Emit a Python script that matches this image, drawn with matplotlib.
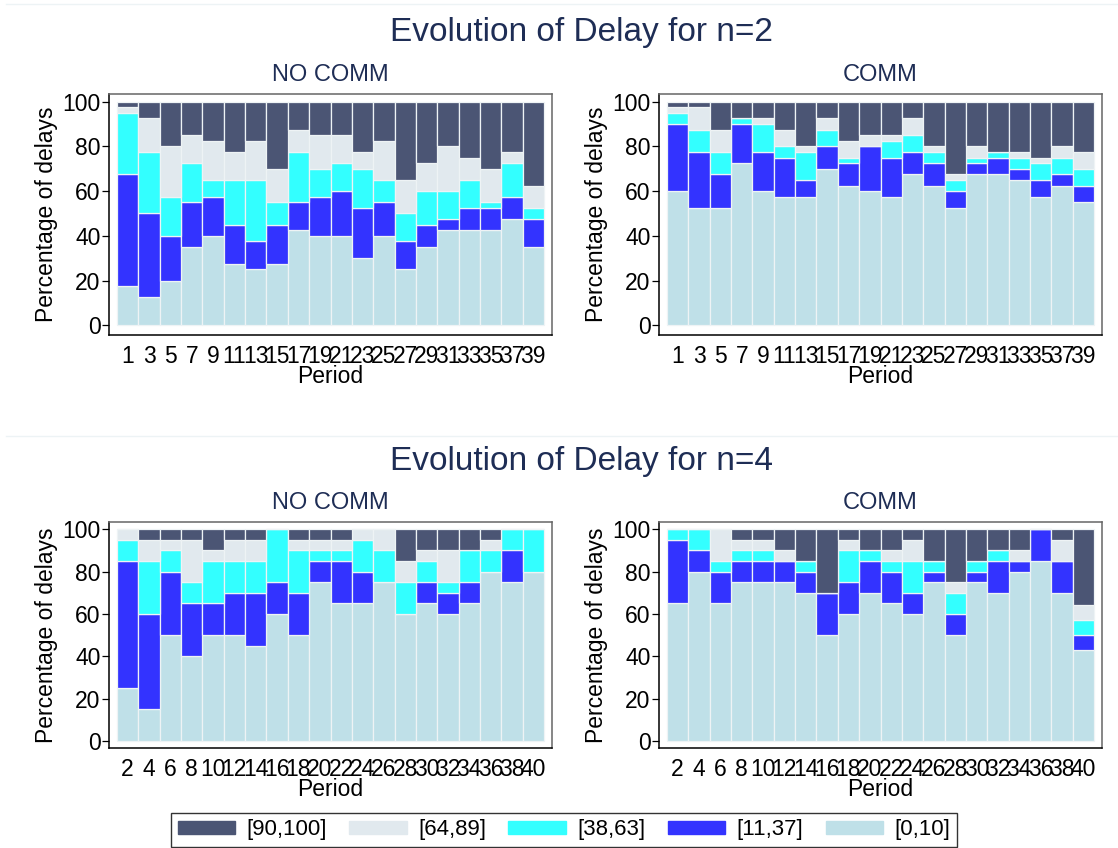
import numpy as np
import matplotlib
matplotlib.use('Agg')
from matplotlib import pyplot as plt
from matplotlib.patches import Patch
from matplotlib.lines import Line2D

plt.rcParams['font.family'] = ['Liberation Sans', 'DejaVu Sans']

labels = ['[90,100]', '[64,89]', '[38,63]', '[11,37]', '[0,10]']
colors = ['#4b5574', '#e1e9ee', '#33ffff', '#3333ff', '#bfe0e8']

periods_n2 = list(range(1, 40, 2))
periods_n4 = list(range(2, 41, 2))

# n=2, NO COMM  (shares in %, bottom to top)
n2_nc_0_10 = [17.5, 12.5, 20, 35, 40, 27.5, 25, 27.5, 42.5, 40, 40, 30, 40, 25, 35, 42.5, 42.5, 42.5, 47.5, 35]
n2_nc_11_37 = [50, 37.5, 20, 20, 17.5, 17.5, 12.5, 17.5, 12.5, 17.5, 20, 22.5, 15, 12.5, 10, 5, 10, 10, 10, 12.5]
n2_nc_38_63 = [27.5, 27.5, 17.5, 17.5, 7.5, 20, 27.5, 10, 22.5, 12.5, 12.5, 17.5, 10, 12.5, 15, 12.5, 12.5, 2.5, 15, 5]
n2_nc_64_89 = [2.5, 15, 22.5, 12.5, 17.5, 12.5, 17.5, 15, 10, 15, 12.5, 7.5, 17.5, 15, 12.5, 20, 10, 15, 5, 10]
n2_nc_90_100 = [2.5, 7.5, 20, 15, 17.5, 22.5, 17.5, 30, 12.5, 15, 15, 22.5, 17.5, 35, 27.5, 20, 25, 30, 22.5, 37.5]

# n=2, COMM
n2_c_0_10 = [60, 52.5, 52.5, 72.5, 60, 57.5, 57.5, 70, 62.5, 60, 57.5, 67.5, 62.5, 52.5, 67.5, 67.5, 65, 57.5, 62.5, 55]
n2_c_11_37 = [30, 25, 15, 17.5, 17.5, 17.5, 7.5, 10, 10, 20, 17.5, 10, 10, 7.5, 5, 7.5, 5, 7.5, 5, 7.5]
n2_c_38_63 = [5, 10, 10, 2.5, 12.5, 5, 12.5, 7.5, 2.5, 0, 7.5, 7.5, 5, 5, 2.5, 2.5, 5, 7.5, 7.5, 7.5]
n2_c_64_89 = [2.5, 10, 10, 0, 2.5, 7.5, 2.5, 5, 7.5, 5, 2.5, 7.5, 2.5, 2.5, 5, 0, 2.5, 2.5, 5, 7.5]
n2_c_90_100 = [2.5, 2.5, 12.5, 7.5, 7.5, 12.5, 20, 7.5, 17.5, 15, 15, 7.5, 20, 32.5, 20, 22.5, 22.5, 25, 20, 22.5]

# n=4, NO COMM
n4_nc_0_10 = [25, 15, 50, 40, 50, 50, 45, 60, 50, 75, 65, 65, 75, 60, 65, 60, 65, 80, 75, 80]
n4_nc_11_37 = [60, 45, 30, 25, 15, 20, 25, 15, 20, 10, 20, 15, 0, 0, 10, 10, 10, 0, 15, 0]
n4_nc_38_63 = [10, 25, 10, 10, 20, 15, 15, 25, 20, 5, 5, 15, 15, 15, 10, 5, 15, 10, 10, 20]
n4_nc_64_89 = [5, 10, 5, 20, 5, 10, 10, 0, 5, 5, 5, 5, 10, 10, 5, 15, 0, 5, 0, 0]
n4_nc_90_100 = [0, 5, 5, 5, 10, 5, 5, 0, 5, 5, 5, 0, 0, 15, 10, 10, 10, 5, 0, 0]

# n=4, COMM
n4_c_0_10 = [65, 80, 65, 75, 75, 75, 70, 50, 60, 70, 65, 60, 75, 50, 75, 70, 80, 85, 70, 42.86]
n4_c_11_37 = [30, 10, 15, 10, 10, 10, 10, 20, 15, 15, 15, 10, 5, 10, 5, 15, 5, 15, 15, 7.14]
n4_c_38_63 = [5, 10, 5, 5, 5, 0, 5, 0, 15, 5, 5, 15, 5, 10, 5, 5, 0, 0, 0, 7.14]
n4_c_64_89 = [0, 0, 15, 5, 5, 5, 0, 0, 5, 0, 5, 10, 0, 5, 0, 0, 5, 0, 10, 7.14]
n4_c_90_100 = [0, 0, 0, 5, 5, 10, 15, 30, 5, 10, 10, 5, 15, 25, 15, 10, 10, 0, 5, 35.71]

W, H = 1118, 848
fig = plt.figure(figsize=(W / 100, H / 100), dpi=100)
title_color = '#1e2d55'


def px_axes(x0, y0, x1, y1):
    return fig.add_axes([x0 / W, 1 - y1 / H, (x1 - x0) / W, (y1 - y0) / H])


def panel(ax, periods, series, ylim):
    x = np.arange(len(periods))
    bottom = np.zeros(len(periods))
    # draw from [0,10] upward
    for vals, col in zip(series, colors[::-1]):
        vals = np.array(vals, dtype=float)
        ax.bar(x, vals, width=1.0, bottom=bottom, color=col,
               edgecolor='#eef3f5', linewidth=0.9)
        bottom += vals
    ax.set_xlim(-0.875, len(periods) - 1 + 0.875)
    ax.set_ylim(*ylim)
    ax.set_yticks([0, 20, 40, 60, 80, 100])
    ax.set_xticks(x)
    ax.set_xticklabels([str(p) for p in periods])
    ax.tick_params(axis='y', labelsize=16.5, length=5, width=0.9, pad=1)
    ax.tick_params(axis='x', labelsize=16.5, length=0, pad=7)
    ax.set_ylabel('Percentage of delays', fontsize=16.5, labelpad=3)
    ax.set_xlabel('Period', fontsize=16.5, labelpad=-2)
    for s in ['top', 'right']:
        ax.spines[s].set_color('#666666')
    for s in ['left', 'bottom']:
        ax.spines[s].set_color('#000000')
    for s in ax.spines.values():
        s.set_linewidth(1.1)


ax1 = px_axes(109, 94, 552, 335)
panel(ax1, periods_n2, [n2_nc_0_10, n2_nc_11_37, n2_nc_38_63, n2_nc_64_89, n2_nc_90_100], (-4.3, 103.4))
ax2 = px_axes(659, 94, 1102, 335)
panel(ax2, periods_n2, [n2_c_0_10, n2_c_11_37, n2_c_38_63, n2_c_64_89, n2_c_90_100], (-4.3, 103.4))
ax3 = px_axes(109, 522, 552, 748)
panel(ax3, periods_n4, [n4_nc_0_10, n4_nc_11_37, n4_nc_38_63, n4_nc_64_89, n4_nc_90_100], (-3.3, 103.4))
ax4 = px_axes(659, 522, 1102, 748)
panel(ax4, periods_n4, [n4_c_0_10, n4_c_11_37, n4_c_38_63, n4_c_64_89, n4_c_90_100], (-3.3, 103.4))

for ax, name, yy in [(ax1, 'NO COMM', 75), (ax2, 'COMM', 75), (ax3, 'NO COMM', 503), (ax4, 'COMM', 503)]:
    pos = ax.get_position()
    fig.text(pos.x0 + pos.width / 2, 1 - yy / H, name, fontsize=17, color=title_color,
             ha='center', va='center')

fig.text(581 / W, 1 - 32 / H, 'Evolution of Delay for n=2', fontsize=24,
         color=title_color, ha='center', va='center')
fig.text(581 / W, 1 - 462 / H, 'Evolution of Delay for n=4', fontsize=24,
         color=title_color, ha='center', va='center')

# faint separators between the two graphs
for yy in [4, 436]:
    fig.add_artist(Line2D([6 / W, 1], [1 - yy / H, 1 - yy / H], color='#edf3f5', linewidth=1))

handles = [Patch(facecolor=c, edgecolor=c) for c in colors]
leg = fig.legend(handles, labels, ncol=5, loc='center', bbox_to_anchor=(564 / W, 1 - 830 / H),
                 fontsize=16, frameon=True, fancybox=False, edgecolor='#000000',
                 handlelength=2.6, handleheight=0.5, columnspacing=1.0, handletextpad=0.5,
                 borderpad=0.3)
leg.get_frame().set_linewidth(1.0)

fig.savefig('out.png', dpi=100)
